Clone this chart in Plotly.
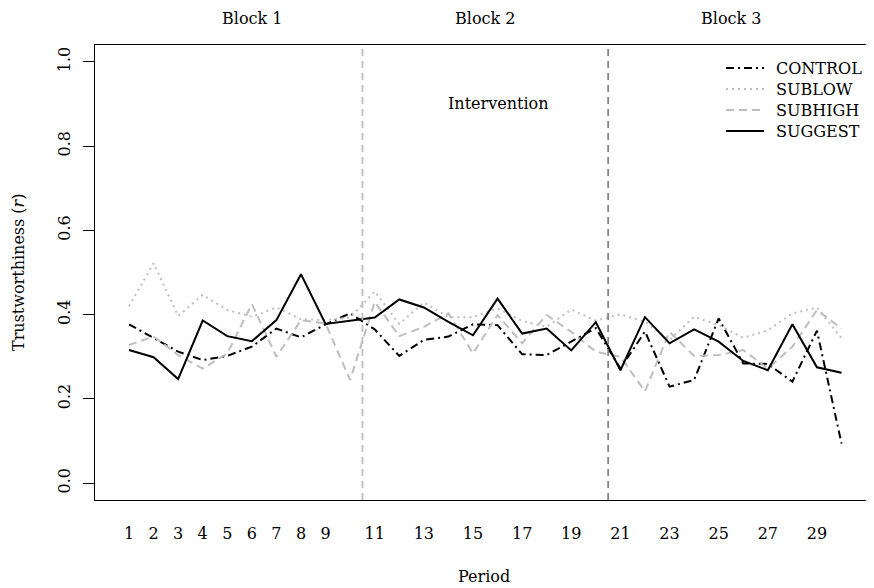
import plotly.graph_objects as go

period = list(range(1, 31))
control = [0.377, 0.344, 0.312, 0.292, 0.302, 0.324, 0.367, 0.346, 0.377, 0.403,
           0.365, 0.302, 0.340, 0.348, 0.377, 0.375, 0.306, 0.304, 0.336, 0.368,
           0.272, 0.360, 0.229, 0.245, 0.391, 0.284, 0.283, 0.241, 0.362, 0.094]
sublow = [0.420, 0.522, 0.397, 0.447, 0.411, 0.395, 0.417, 0.389, 0.387, 0.393,
          0.455, 0.378, 0.429, 0.394, 0.394, 0.415, 0.385, 0.371, 0.412, 0.386,
          0.401, 0.383, 0.340, 0.395, 0.375, 0.345, 0.363, 0.403, 0.417, 0.344]
subhigh = [0.328, 0.348, 0.304, 0.272, 0.308, 0.425, 0.300, 0.387, 0.379, 0.245,
           0.430, 0.349, 0.371, 0.403, 0.308, 0.399, 0.332, 0.399, 0.359, 0.312,
           0.300, 0.218, 0.359, 0.302, 0.304, 0.316, 0.272, 0.324, 0.411, 0.367]
suggest = [0.316, 0.299, 0.247, 0.386, 0.349, 0.337, 0.387, 0.496, 0.378, 0.386,
           0.393, 0.436, 0.417, 0.383, 0.351, 0.438, 0.355, 0.367, 0.315, 0.382,
           0.268, 0.394, 0.332, 0.365, 0.336, 0.290, 0.268, 0.377, 0.275, 0.262]

x_tickvals = [1, 2, 3, 4, 5, 6, 7, 8, 9, 11, 13, 15, 17, 19, 21, 23, 25, 27, 29]
y_tickvals = [0.0, 0.2, 0.4, 0.6, 0.8, 1.0]
block_bounds = [10.5, 20.5]
block_labels = ["Block 1", "Block 2", "Block 3"]
block_label_x = [6.0, 15.5, 25.5]

FONT = "DejaVu Serif"
FS = 16
GRAY = "#bebebe"

# page body has an 8px margin: work in figure coordinates (screen - 8)
OFF = 8
FIG_W, FIG_H = 890, 588
L, R, T, B = 95 - OFF, FIG_W, 45 - OFF, 500 - OFF
W, H = R - L, B - T
PX_PER_UNIT = 24.57
X_LEFT = 1 - (129 - 95) / PX_PER_UNIT
X_RIGHT = X_LEFT + W / PX_PER_UNIT


def px_x(p):
    return (p - OFF - L) / W


def px_y(p):
    return (B - (p - OFF)) / H


series = [
    ("CONTROL", control, "black", "8px,4px,2px,4px"),
    ("SUBLOW", sublow, GRAY, "2px,4px"),
    ("SUBHIGH", subhigh, GRAY, "8px,5px"),
    ("SUGGEST", suggest, "black", "solid"),
]

fig = go.Figure()
for name, vals, col, dash in series:
    fig.add_trace(go.Scatter(x=period, y=vals, mode="lines", name=name, showlegend=False,
                             line=dict(color=col, width=2, dash=dash)))

fig.add_shape(type="line", xref="x", yref="paper", x0=block_bounds[0], x1=block_bounds[0],
              y0=0, y1=1, line=dict(color=GRAY, width=1.8, dash="7px,5px"))
fig.add_shape(type="line", xref="x", yref="paper", x0=block_bounds[1], x1=block_bounds[1],
              y0=0, y1=1, line=dict(color="#707070", width=1.5, dash="7px,5px"))

# legend (manual)
for i, (name, vals, col, dash) in enumerate(series):
    yy = px_y(68 + 21 * i)
    fig.add_shape(type="line", xref="paper", yref="paper", x0=px_x(726), x1=px_x(764),
                  y0=yy, y1=yy, line=dict(color=col, width=2, dash=dash))
    fig.add_annotation(x=px_x(774), xref="paper", y=yy, yref="paper", text=name,
                       xanchor="left", yanchor="middle", showarrow=False,
                       font=dict(family=FONT, size=FS, color="black"))

for lab, bx in zip(block_labels, block_label_x):
    fig.add_annotation(x=bx, xref="x", y=px_y(OFF), yref="paper", text=lab, showarrow=False,
                       xanchor="center", yanchor="top", borderpad=0,
                       font=dict(family=FONT, size=FS, color="black"))
fig.add_annotation(x=16, xref="x", y=0.9, yref="y", text="Intervention", showarrow=False,
                   xanchor="center", yanchor="middle",
                   font=dict(family=FONT, size=FS, color="black"))
fig.add_annotation(x=px_x(18), xref="paper", y=px_y(272), yref="paper",
                   text="Trustworthiness (<i>r</i>)", xanchor="center", yanchor="middle",
                   textangle=-90, showarrow=False, font=dict(family=FONT, size=FS, color="black"))
fig.add_annotation(x=px_x(484), xref="paper", y=px_y(576), yref="paper", text="Period",
                   xanchor="center", yanchor="middle",
                   showarrow=False, font=dict(family=FONT, size=FS, color="black"))

fig.update_layout(
    width=FIG_W, height=FIG_H,
    margin=dict(l=L, r=FIG_W - R, t=T, b=FIG_H - B, autoexpand=False),
    paper_bgcolor="white", plot_bgcolor="white",
    font=dict(family=FONT, size=FS, color="black"),
    showlegend=False,
    xaxis=dict(range=[X_LEFT, X_RIGHT], tickvals=x_tickvals, ticktext=[str(v) for v in x_tickvals],
               showgrid=False, zeroline=False, showline=True, mirror=True, linecolor="black",
               linewidth=1, ticks="outside", ticklen=19, tickcolor="rgba(0,0,0,0)",
               automargin=False),
    yaxis=dict(range=[-0.04, 1.04], tickvals=y_tickvals, tickformat=".1f",
               showgrid=False, zeroline=False, showline=True, mirror=False, linecolor="black",
               linewidth=1, ticks="outside", ticklen=11, tickcolor="black", tickangle=-90,
               ticklabelstandoff=7, automargin=False),
)

fig.write_html("out.html")
